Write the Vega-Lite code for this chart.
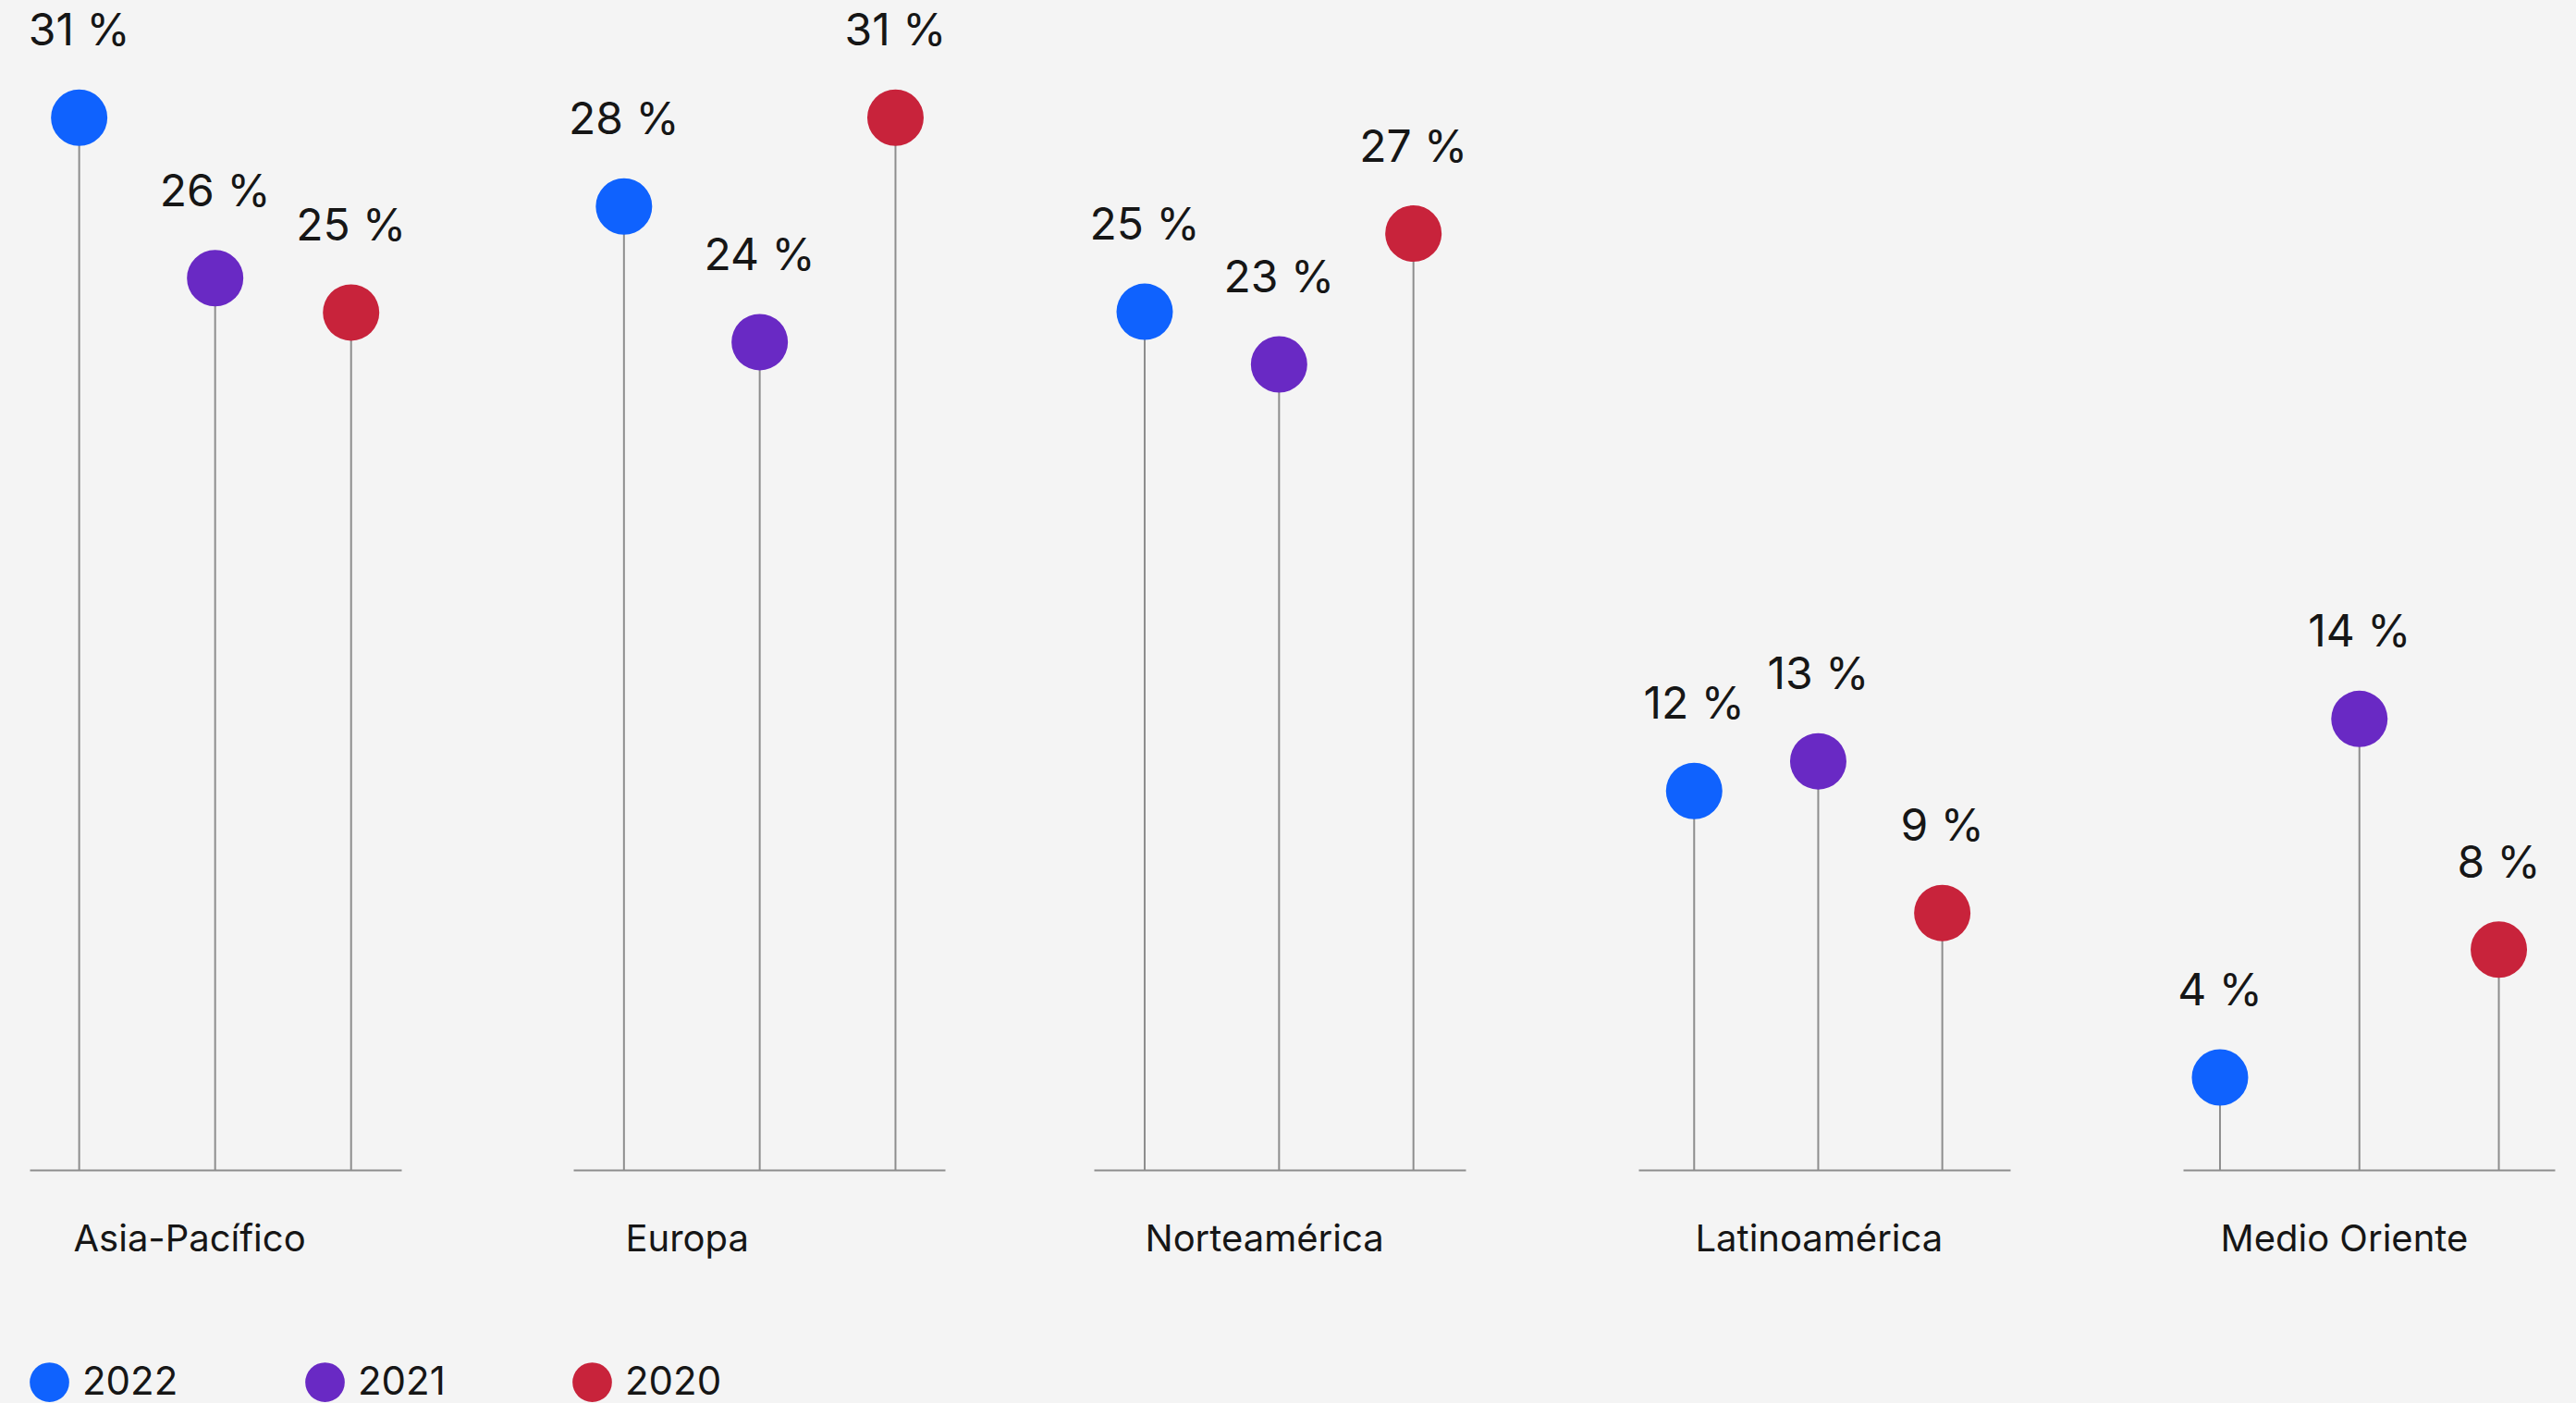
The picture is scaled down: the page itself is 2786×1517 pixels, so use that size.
{
  "$schema": "https://vega.github.io/schema/vega-lite/v6.json",
  "background": "#f4f4f4",
  "padding": {"left": 30, "top": 0, "right": 31, "bottom": 2},
  "datasets": {
    "d": [
      {"region": "Asia-Pacífico", "year": "2022", "value": 30.45, "label": "31 %"},
      {"region": "Asia-Pacífico", "year": "2021", "value": 26.06, "label": "26 %"},
      {"region": "Asia-Pacífico", "year": "2020", "value": 25.12, "label": "25 %"},
      {"region": "Europa", "year": "2022", "value": 28.02, "label": "28 %"},
      {"region": "Europa", "year": "2021", "value": 24.31, "label": "24 %"},
      {"region": "Europa", "year": "2020", "value": 30.45, "label": "31 %"},
      {"region": "Norteamérica", "year": "2022", "value": 25.14, "label": "25 %"},
      {"region": "Norteamérica", "year": "2021", "value": 23.70, "label": "23 %"},
      {"region": "Norteamérica", "year": "2020", "value": 27.28, "label": "27 %"},
      {"region": "Latinoamérica", "year": "2022", "value": 12.03, "label": "12 %"},
      {"region": "Latinoamérica", "year": "2021", "value": 12.84, "label": "13 %"},
      {"region": "Latinoamérica", "year": "2020", "value": 8.69, "label": "9 %"},
      {"region": "Medio Oriente", "year": "2022", "value": 4.19, "label": "4 %"},
      {"region": "Medio Oriente", "year": "2021", "value": 14.00, "label": "14 %"},
      {"region": "Medio Oriente", "year": "2020", "value": 7.69, "label": "8 %"}
    ]
  },
  "data": {"name": "d"},
  "spacing": 154,
  "resolve": {"scale": {"x": "independent", "color": "shared"}, "legend": {"color": "shared"}},
  "hconcat": [
    {
      "spacing": 186,
      "bounds": "flush",
      "resolve": {"scale": {"x": "independent", "color": "shared"}, "legend": {"color": "shared"}},
      "hconcat": [
        {
          "width": 402, "height": 1265,
          "transform": [{"filter": "datum.region === 'Asia-Pacífico'"}],
          "encoding": {
            "x": {"field": "year", "type": "nominal", "sort": ["2022", "2021", "2020"],
                  "scale": {"type": "point", "padding": 0.367, "align": 0.497},
                  "axis": {"title": "Asia-Pacífico", "titleX": 47}},
            "y": {"field": "value", "type": "quantitative", "scale": {"domain": [1.66, 33.67], "nice": false, "zero": false}, "axis": null}
          },
          "layer": [
            {"mark": {"type": "rule", "stroke": "#8d8d8d", "strokeWidth": 2}, "encoding": {"y2": {"datum": 1.66}}},
            {"mark": {"type": "circle", "size": 3721, "opacity": 1}, "encoding": {"color": {"field": "year", "type": "nominal", "scale": {"domain": ["2022", "2021", "2020"], "range": ["#0f62fe", "#6929c4", "#c8233b"]}, "legend": {"title": null}}}},
            {"mark": {"type": "text", "dy": -78, "baseline": "alphabetic", "align": "center", "fontSize": 48, "font": "Inter", "color": "#161616"}, "encoding": {"text": {"field": "label"}}}
          ]
        },
        {
          "width": 402, "height": 1265,
          "transform": [{"filter": "datum.region === 'Europa'"}],
          "encoding": {
            "x": {"field": "year", "type": "nominal", "sort": ["2022", "2021", "2020"],
                  "scale": {"type": "point", "padding": 0.369, "align": 0.506},
                  "axis": {"title": "Europa", "titleX": 56}},
            "y": {"field": "value", "type": "quantitative", "scale": {"domain": [1.66, 33.67], "nice": false, "zero": false}, "axis": null}
          },
          "layer": [
            {"mark": {"type": "rule", "stroke": "#8d8d8d", "strokeWidth": 2}, "encoding": {"y2": {"datum": 1.66}}},
            {"mark": {"type": "circle", "size": 3721, "opacity": 1}, "encoding": {"color": {"field": "year", "type": "nominal", "scale": {"domain": ["2022", "2021", "2020"], "range": ["#0f62fe", "#6929c4", "#c8233b"]}, "legend": {"title": null}}}},
            {"mark": {"type": "text", "dy": -78, "baseline": "alphabetic", "align": "center", "fontSize": 48, "font": "Inter", "color": "#161616"}, "encoding": {"text": {"field": "label"}}}
          ]
        }
      ]
    },
    {
      "spacing": 187,
      "bounds": "flush",
      "resolve": {"scale": {"x": "independent", "color": "shared"}, "legend": {"color": "shared"}},
      "hconcat": [
        {
          "width": 402, "height": 1265,
          "transform": [{"filter": "datum.region === 'Norteamérica'"}],
          "encoding": {
            "x": {"field": "year", "type": "nominal", "sort": ["2022", "2021", "2020"],
                  "scale": {"type": "point", "padding": 0.383, "align": 0.494},
                  "axis": {"title": "Norteamérica", "titleX": 55}},
            "y": {"field": "value", "type": "quantitative", "scale": {"domain": [1.66, 33.67], "nice": false, "zero": false}, "axis": null}
          },
          "layer": [
            {"mark": {"type": "rule", "stroke": "#8d8d8d", "strokeWidth": 2}, "encoding": {"y2": {"datum": 1.66}}},
            {"mark": {"type": "circle", "size": 3721, "opacity": 1}, "encoding": {"color": {"field": "year", "type": "nominal", "scale": {"domain": ["2022", "2021", "2020"], "range": ["#0f62fe", "#6929c4", "#c8233b"]}, "legend": {"title": null}}}},
            {"mark": {"type": "text", "dy": -78, "baseline": "alphabetic", "align": "center", "fontSize": 48, "font": "Inter", "color": "#161616"}, "encoding": {"text": {"field": "label"}}}
          ]
        },
        {
          "width": 402, "height": 1265,
          "transform": [{"filter": "datum.region === 'Latinoamérica'"}],
          "encoding": {
            "x": {"field": "year", "type": "nominal", "sort": ["2022", "2021", "2020"],
                  "scale": {"type": "point", "padding": 0.498, "align": 0.451},
                  "axis": {"title": "Latinoamérica", "titleX": 61}},
            "y": {"field": "value", "type": "quantitative", "scale": {"domain": [1.66, 33.67], "nice": false, "zero": false}, "axis": null}
          },
          "layer": [
            {"mark": {"type": "rule", "stroke": "#8d8d8d", "strokeWidth": 2}, "encoding": {"y2": {"datum": 1.66}}},
            {"mark": {"type": "circle", "size": 3721, "opacity": 1}, "encoding": {"color": {"field": "year", "type": "nominal", "scale": {"domain": ["2022", "2021", "2020"], "range": ["#0f62fe", "#6929c4", "#c8233b"]}, "legend": {"title": null}}}},
            {"mark": {"type": "text", "dy": -78, "baseline": "alphabetic", "align": "center", "fontSize": 48, "font": "Inter", "color": "#161616"}, "encoding": {"text": {"field": "label"}}}
          ]
        },
        {
          "width": 402, "height": 1265,
          "transform": [{"filter": "datum.region === 'Medio Oriente'"}],
          "encoding": {
            "x": {"field": "year", "type": "nominal", "sort": ["2022", "2021", "2020"],
                  "scale": {"type": "point", "padding": 0.333, "align": 0.398},
                  "axis": {"title": "Medio Oriente", "titleX": 40}},
            "y": {"field": "value", "type": "quantitative", "scale": {"domain": [1.66, 33.67], "nice": false, "zero": false}, "axis": null}
          },
          "layer": [
            {"mark": {"type": "rule", "stroke": "#8d8d8d", "strokeWidth": 2}, "encoding": {"y2": {"datum": 1.66}}},
            {"mark": {"type": "circle", "size": 3721, "opacity": 1}, "encoding": {"color": {"field": "year", "type": "nominal", "scale": {"domain": ["2022", "2021", "2020"], "range": ["#0f62fe", "#6929c4", "#c8233b"]}, "legend": {"title": null}}}},
            {"mark": {"type": "text", "dy": -78, "baseline": "alphabetic", "align": "center", "fontSize": 48, "font": "Inter", "color": "#161616"}, "encoding": {"text": {"field": "label"}}}
          ]
        }
      ]
    }
  ],
  "config": {
    "view": {"stroke": null},
    "font": "Inter",
    "axisX": {
      "labels": false, "ticks": false, "grid": false,
      "domain": true, "domainColor": "#8d8d8d", "domainWidth": 2,
      "titleY": 87, "titleAlign": "left", "titleBaseline": "alphabetic", "titleAnchor": "start",
      "titleFont": "Inter", "titleFontSize": 40, "titleFontWeight": "normal", "titleColor": "#161616", "titleLimit": 1000
    },
    "legend": {
      "orient": "bottom", "direction": "horizontal", "offset": 113,
      "symbolType": "circle", "symbolSize": 1823, "symbolStrokeWidth": 0, "symbolOpacity": 1,
      "labelFont": "Inter", "labelFontSize": 42, "labelColor": "#161616", "labelOffset": 14,
      "columnPadding": 137, "labelLimit": 500, "padding": 0
    }
  }
}
